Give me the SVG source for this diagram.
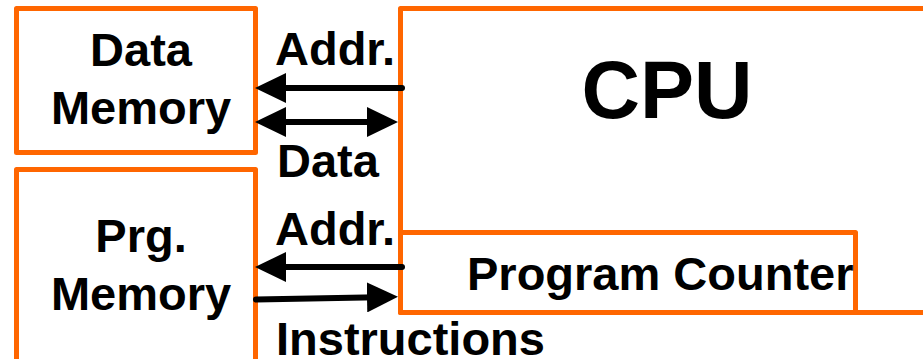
<svg xmlns="http://www.w3.org/2000/svg" width="923" height="359" viewBox="0 0 923 359">
<style>
.box{fill:none;stroke:#FF6600;stroke-width:5;stroke-linejoin:round}
.t{font-family:"Liberation Sans",Arial,sans-serif;font-weight:bold;fill:#000}
.lbl{font-size:47px}
.c{text-anchor:middle}
.w{fill:none;stroke:#000;stroke-width:6;stroke-linecap:round}
</style>
<defs>
<marker id="ah" viewBox="0 0 31 30" refX="11" refY="15" markerWidth="31" markerHeight="30" markerUnits="userSpaceOnUse" orient="auto-start-reverse">
<path d="M0,0 L31,15 L0,30 z" fill="#000"/>
</marker>
</defs>
<rect width="923" height="359" fill="#fff"/>
<g id="data-memory">
<rect class="box" x="16.5" y="8.5" width="239" height="144"/>
<text class="t lbl c" x="141" y="66">Data</text>
<text class="t lbl c" x="141" y="124">Memory</text>
</g>
<g id="prg-memory">
<rect class="box" x="16.5" y="169.5" width="239" height="220"/>
<text class="t lbl c" x="141" y="252">Prg.</text>
<text class="t lbl c" x="141" y="310">Memory</text>
</g>
<g id="cpu">
<rect class="box" x="400.5" y="8.5" width="540" height="304"/>
<text class="t c" x="667" y="118" font-size="81">CPU</text>
</g>
<g id="program-counter">
<rect class="box" x="400.5" y="232.5" width="455" height="80"/>
<text class="t lbl" x="467" y="290">Program Counter</text>
</g>
<g id="connectors">
<path class="w" d="M402,88 L275,88" marker-end="url(#ah)"/>
<path class="w" d="M275,122 L378,122" marker-start="url(#ah)" marker-end="url(#ah)"/>
<path class="w" d="M402,267 L275,267" marker-end="url(#ah)"/>
<path class="w" d="M256,299.5 L378,297.2" marker-end="url(#ah)"/>
<text class="t lbl" x="275" y="65">Addr.</text>
<text class="t lbl" x="277" y="177">Data</text>
<text class="t lbl" x="275" y="245">Addr.</text>
<text class="t lbl" x="276" y="355">Instructions</text>
</g>
</svg>
